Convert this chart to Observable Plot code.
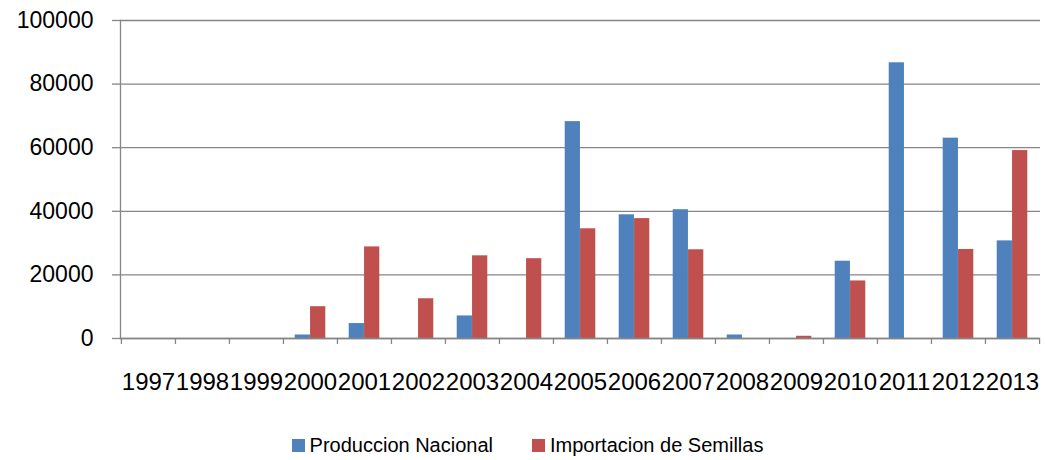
<!DOCTYPE html>
<html>
<head>
<meta charset="utf-8">
<script src="https://cdn.jsdelivr.net/npm/d3@7"></script>
<script src="https://cdn.jsdelivr.net/npm/@observablehq/plot@0.6"></script>
<style>
  html, body { margin: 0; padding: 0; background: #fff; }
  body { width: 1045px; height: 460px; overflow: hidden; font-family: "Liberation Sans", Arial, sans-serif; }
  #legend { display: flex; justify-content: center; align-items: center; height: 70px; font-size: 20px; color: #000; padding-left: 10px; }
  .item { display: flex; align-items: center; }
  .item + .item { margin-left: 39px; }
  .sw { width: 13px; height: 13px; margin-right: 5px; }
</style>
</head>
<body>
<div id="chart"></div>
<div id="legend"></div>
<script>
const years = ["1997","1998","1999","2000","2001","2002","2003","2004","2005","2006","2007","2008","2009","2010","2011","2012","2013"];
const produccionNacional = [0,0,0,1100,4700,0,7100,0,68200,38900,40500,1100,0,24300,86700,63000,30700];
const importacionSemillas = [0,0,0,10000,28800,12500,26000,25100,34500,37700,27900,0,700,18100,0,28000,59100];
const seriesNames = ["Produccion Nacional", "Importacion de Semillas"];
const seriesColors = ["#4F81BD", "#C0504D"];
const yTicks = [0, 20000, 40000, 60000, 80000, 100000];

const W = 1045, H = 410;
const mL = 120, mR = 5, mT = 20, mB = 72;
const bw = (W - mL - mR) / years.length;
const barW = 15.35;
const outer = (bw - 2 * barW) / 2;

const prodData = years.map((y, i) => ({year: y, value: produccionNacional[i]}));
const impData = years.map((y, i) => ({year: y, value: importacionSemillas[i]}));
const gray = "#868686";

const chart = Plot.plot({
  width: W, height: H,
  marginLeft: mL, marginRight: mR, marginTop: mT, marginBottom: mB,
  style: {fontFamily: "'Liberation Sans', Arial, sans-serif", fontSize: "23px", color: "#000", background: "#fff"},
  x: {domain: years, padding: 0, label: null},
  y: {domain: [0, 100000], label: null},
  marks: [
    Plot.gridY(yTicks, {stroke: gray, strokeOpacity: 1, strokeWidth: 1.3}),
    Plot.axisY(yTicks, {tickSize: 8, tickPadding: 19, stroke: gray, strokeWidth: 1.3, fontSize: 23, fill: "#000", tickFormat: d => String(d), label: null}),
    Plot.barY(prodData, {x: "year", y: "value", fill: seriesColors[0], insetLeft: outer, insetRight: outer + barW}),
    Plot.barY(impData, {x: "year", y: "value", fill: seriesColors[1], insetLeft: outer + barW, insetRight: outer}),
    Plot.ruleY([0], {stroke: gray, strokeWidth: 1.3}),
    Plot.frame({anchor: "left", stroke: gray, strokeWidth: 1.3}),
    Plot.axisX({tickSize: 6, text: null, dx: -bw / 2, stroke: gray, strokeWidth: 1.3, label: null}),
    Plot.axisX([years[years.length - 1]], {tickSize: 6, text: null, dx: bw / 2, stroke: gray, strokeWidth: 1.3, label: null}),
    Plot.axisX({tickSize: 0, tickPadding: 34, fontSize: 24, fill: "#000", label: null})
  ]
});
document.getElementById("chart").appendChild(chart);

const legend = document.getElementById("legend");
seriesNames.forEach((name, i) => {
  const item = document.createElement("div");
  item.className = "item";
  const sw = document.createElement("div");
  sw.className = "sw";
  sw.style.background = seriesColors[i];
  const t = document.createElement("span");
  t.textContent = name;
  item.appendChild(sw); item.appendChild(t);
  legend.appendChild(item);
});
</script>
</body>
</html>
